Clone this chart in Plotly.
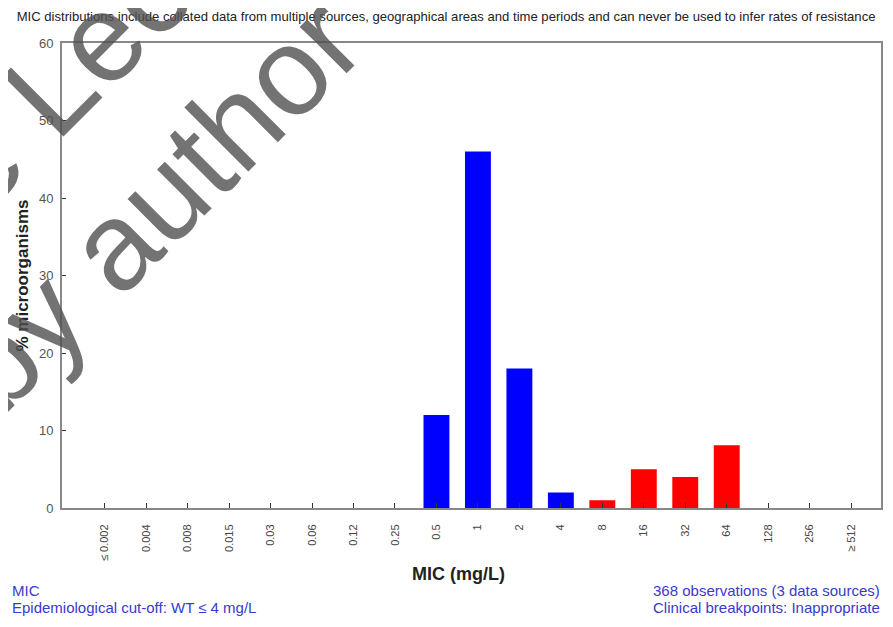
import plotly.graph_objects as go

# ---- data ----
mic_labels = ["≤ 0.002", "0.004", "0.008", "0.015", "0.03", "0.06", "0.12", "0.25",
              "0.5", "1", "2", "4", "8", "16", "32", "64", "128", "256", "≥ 512"]
pct_organisms = [0, 0, 0, 0, 0, 0, 0, 0,
                 12.0, 46.0, 18.0, 2.0, 1.0, 5.0, 4.0, 8.1, 0, 0, 0]
ecoff_label = "4"          # wild type ≤ 4 mg/L
y_ticks = [0, 10, 20, 30, 40, 50, 60]

title_text = ("MIC distributions include collated data from multiple sources, geographical areas "
              "and time periods and can never be used to infer rates of resistance")
left_notes = ["MIC", "Epidemiological cut-off: WT ≤ 4 mg/L"]
right_notes = ["368 observations (3 data sources)", "Clinical breakpoints: Inappropriate"]

BLUE = "#0000FF"
RED = "#FF0000"
NOTE = "#3a3acc"
FONT = "Liberation Sans, Arial, sans-serif"

cut_idx = mic_labels.index(ecoff_label)
bar_colors = [BLUE if i <= cut_idx else RED for i in range(len(mic_labels))]

fig = go.Figure()
fig.add_trace(go.Bar(
    x=mic_labels, y=pct_organisms,
    marker=dict(color=bar_colors, line=dict(width=0)),
    showlegend=False, hoverinfo="x+y",
))

# the page body adds an 8px offset; figure sized to fit the 893x627 window
OFF = 8
W, H = 893 - OFF, 627 - OFF
L, R, T, B = 62 - OFF, 10, 43 - OFF, 119
pw, ph = W - L - R, H - T - B


def px(page_x):
    return (page_x - OFF - L) / pw


def py(page_y):
    return (H - B - (page_y - OFF)) / ph


fig.update_layout(
    width=W, height=H,
    margin=dict(l=L, r=R, t=T, b=B),
    paper_bgcolor="white", plot_bgcolor="white",
    bargap=0.375,
    font=dict(family=FONT, color="#333"),
    title=dict(text=title_text, x=px(447), xref="paper", xanchor="center",
               y=1 - (16 - OFF) / H, yref="container", yanchor="middle",
               font=dict(size=13.1, color="#222", family=FONT)),
    xaxis=dict(
        type="category", range=[-1.03, 18.72],
        showline=True, linecolor="#888", linewidth=2, mirror=True,
        ticks="inside", ticklen=5, tickcolor="#333", tickwidth=1,
        tickangle=-90, tickfont=dict(size=11, color="#444"),
        ticklabelstandoff=10,
        showgrid=False, zeroline=False,
    ),
    yaxis=dict(
        range=[0, 60], tickvals=y_ticks,
        showline=True, linecolor="#888", linewidth=2, mirror=True,
        ticks="inside", ticklen=4, tickcolor="#333", tickwidth=1,
        tickfont=dict(size=13, color="#555"),
        ticklabelstandoff=4,
        showgrid=False, zeroline=False,
        title=dict(text="<b>% microorganisms</b>", standoff=6,
                   font=dict(size=17, color="#222")),
    ),
)

WM = dict(size=125, color="rgba(80,80,80,0.8)", family=FONT)
annos = [
    dict(text="<b>MIC (mg/L)</b>", x=px(459), y=py(574), xref="paper", yref="paper",
         xanchor="center", yanchor="middle", showarrow=False,
         font=dict(size=18, color="#222", family=FONT)),
    dict(text=left_notes[0], x=px(10), y=py(590), xref="paper", yref="paper",
         xanchor="left", yanchor="middle", showarrow=False,
         font=dict(size=15, color=NOTE, family=FONT)),
    dict(text=left_notes[1], x=px(10), y=py(607), xref="paper", yref="paper",
         xanchor="left", yanchor="middle", showarrow=False,
         font=dict(size=15, color=NOTE, family=FONT)),
    dict(text=right_notes[0], x=px(884), y=py(590), xref="paper", yref="paper",
         xanchor="right", yanchor="middle", showarrow=False,
         font=dict(size=15, color=NOTE, family=FONT)),
    dict(text=right_notes[1], x=px(884), y=py(607), xref="paper", yref="paper",
         xanchor="right", yanchor="middle", showarrow=False,
         font=dict(size=15, color=NOTE, family=FONT)),
    # watermark
    dict(text="e Lecture", x=px(136), y=py(2), xref="paper", yref="paper",
         xanchor="center", yanchor="middle", showarrow=False, textangle=-45,
         font=WM),
    dict(text="by author", x=px(155), y=py(203), xref="paper", yref="paper",
         xanchor="center", yanchor="middle", showarrow=False, textangle=-45,
         font=WM),
]
fig.update_layout(annotations=annos)

fig.write_html("out.html")
